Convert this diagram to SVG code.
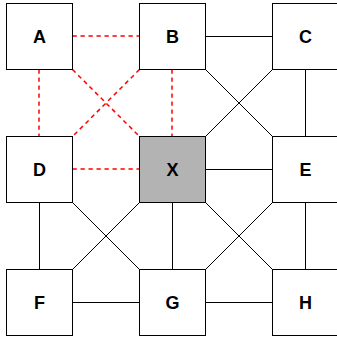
<svg xmlns="http://www.w3.org/2000/svg" width="337" height="341" viewBox="0 0 337 341">
<style>
.n rect{fill:#fff;stroke:#000;stroke-width:1}
.n text{font-family:"Liberation Sans",Arial,sans-serif;font-weight:bold;font-size:18px;text-anchor:middle}
.s line{stroke:#000;stroke-width:1}
.d line{stroke:#f00;stroke-width:1.5;stroke-dasharray:4.3 3.7}
</style>
<rect width="337" height="341" fill="#fff"/>
<g id="connectors">
<g class="d">
<line x1="72.5" y1="36" x2="139.5" y2="36"/>
<line x1="39" y1="69.5" x2="39" y2="136.5"/>
<line x1="72.5" y1="69.5" x2="139.5" y2="136.5"/>
<line x1="139.5" y1="69.5" x2="72.5" y2="136.5"/>
<line x1="172" y1="69.5" x2="172" y2="136.5"/>
<line x1="72.5" y1="169" x2="139.5" y2="169"/>
</g>
<g class="s">
<line x1="205.5" y1="36.5" x2="272.5" y2="36.5"/>
<line x1="205.5" y1="69.5" x2="272.5" y2="136.5"/>
<line x1="272.5" y1="69.5" x2="205.5" y2="136.5"/>
<line x1="305.5" y1="69.5" x2="305.5" y2="136.5"/>
<line x1="205.5" y1="169.5" x2="272.5" y2="169.5"/>
<line x1="39.5" y1="202.5" x2="39.5" y2="269.5"/>
<line x1="72.5" y1="202.5" x2="139.5" y2="269.5"/>
<line x1="139.5" y1="202.5" x2="72.5" y2="269.5"/>
<line x1="172.5" y1="202.5" x2="172.5" y2="269.5"/>
<line x1="205.5" y1="202.5" x2="272.5" y2="269.5"/>
<line x1="272.5" y1="202.5" x2="205.5" y2="269.5"/>
<line x1="305.5" y1="202.5" x2="305.5" y2="269.5"/>
<line x1="72.5" y1="302.5" x2="139.5" y2="302.5"/>
<line x1="205.5" y1="302.5" x2="272.5" y2="302.5"/>
</g>
</g>
<g id="A" class="n"><rect x="6.5" y="3.5" width="66" height="66"/><text x="39.5" y="43">A</text></g>
<g id="B" class="n"><rect x="139.5" y="3.5" width="66" height="66"/><text x="172.5" y="43">B</text></g>
<g id="C" class="n"><rect x="272.5" y="3.5" width="66" height="66"/><text x="305.5" y="43">C</text></g>
<g id="D" class="n"><rect x="6.5" y="136.5" width="66" height="66"/><text x="39.5" y="176">D</text></g>
<g id="X" class="n"><rect x="139.5" y="136.5" width="66" height="66" style="fill:#b3b3b3"/><text x="172.5" y="176">X</text></g>
<g id="E" class="n"><rect x="272.5" y="136.5" width="66" height="66"/><text x="305.5" y="176">E</text></g>
<g id="F" class="n"><rect x="6.5" y="269.5" width="66" height="66"/><text x="39.5" y="309">F</text></g>
<g id="G" class="n"><rect x="139.5" y="269.5" width="66" height="66"/><text x="172.5" y="309">G</text></g>
<g id="H" class="n"><rect x="272.5" y="269.5" width="66" height="66"/><text x="305.5" y="309">H</text></g>
</svg>
